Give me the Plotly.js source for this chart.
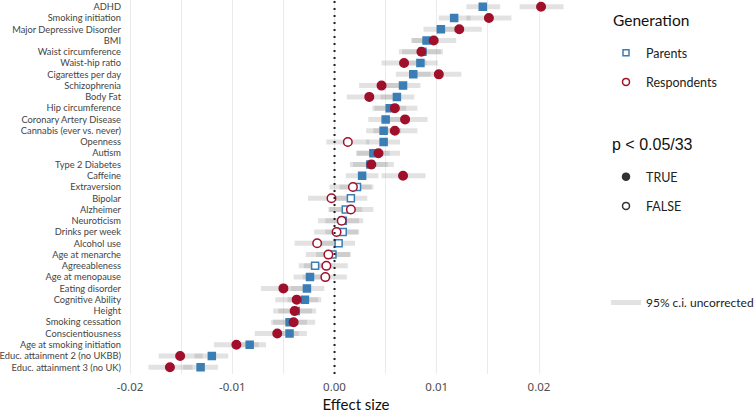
<!DOCTYPE html>
<html>
<head>
<meta charset="utf-8">
<script src="https://cdn.plot.ly/plotly-3.0.1.min.js"></script>
<style>html,body{margin:0;padding:0;background:#fff;}#chart{width:756px;height:413px;}</style>
</head>
<body>
<div id="chart"></div>
<script>
// ---- data ----
const traits = ["ADHD","Smoking initiation","Major Depressive Disorder","BMI","Waist circumference","Waist-hip ratio","Cigarettes per day","Schizophrenia","Body Fat","Hip circumference","Coronary Artery Disease","Cannabis (ever vs. never)","Openness","Autism","Type 2 Diabetes","Caffeine","Extraversion","Bipolar","Alzheimer","Neuroticism","Drinks per week","Alcohol use","Age at menarche","Agreeableness","Age at menopause","Eating disorder","Cognitive Ability","Height","Smoking cessation","Conscientiousness","Age at smoking initiation","Educ. attainment 2 (no UKBB)","Educ. attainment 3 (no UK)"];

const parentEst = [0.0145,0.0117,0.0104,0.0090,0.0086,0.0084,0.0077,0.0067,0.0061,0.0054,0.0050,0.0048,0.0048,0.0038,0.0035,0.0027,0.0022,0.0016,0.0011,0.0008,0.0008,0.0004,-0.0002,-0.0019,-0.0024,-0.0027,-0.0029,-0.0038,-0.0044,-0.0044,-0.0083,-0.0120,-0.0131];
const parentLo  = [0.0129,0.0102,0.0087,0.0076,0.0066,0.0066,0.0060,0.0050,0.0045,0.0037,0.0033,0.0031,0.0031,0.0021,0.0018,0.0011,0.0005,-0.0001,-0.0006,-0.0009,-0.0009,-0.0013,-0.0018,-0.0035,-0.0040,-0.0043,-0.0046,-0.0055,-0.0060,-0.0060,-0.0100,-0.0137,-0.0148];
const parentHi  = [0.0162,0.0133,0.0121,0.0101,0.0106,0.0101,0.0094,0.0084,0.0078,0.0070,0.0067,0.0065,0.0064,0.0054,0.0052,0.0043,0.0038,0.0032,0.0027,0.0024,0.0024,0.0020,0.0015,-0.0002,-0.0007,-0.0010,-0.0013,-0.0022,-0.0027,-0.0027,-0.0067,-0.0104,-0.0114];
const parentSig = [true,true,true,true,true,true,true,true,true,true,true,true,true,true,true,true,false,false,false,false,false,false,false,false,true,true,true,true,true,true,true,true,true];

const respEst = [0.0202,0.0151,0.0122,0.0097,0.0085,0.0068,0.0102,0.0046,0.0034,0.0059,0.0069,0.0059,0.0013,0.0043,0.0036,0.0067,0.0018,-0.0003,0.0016,0.0007,0.0002,-0.0017,-0.0006,-0.0008,-0.0009,-0.0050,-0.0037,-0.0039,-0.0040,-0.0056,-0.0096,-0.0151,-0.0161];
const respLo  = [0.0181,0.0129,0.0102,0.0075,0.0063,0.0046,0.0080,0.0024,0.0012,0.0039,0.0047,0.0038,-0.0008,0.0022,0.0015,0.0046,-0.0005,-0.0026,-0.0005,-0.0016,-0.0020,-0.0039,-0.0028,-0.0030,-0.0031,-0.0072,-0.0058,-0.0060,-0.0062,-0.0078,-0.0118,-0.0172,-0.0182];
const respHi  = [0.0224,0.0173,0.0144,0.0119,0.0104,0.0090,0.0124,0.0068,0.0057,0.0081,0.0091,0.0081,0.0034,0.0064,0.0058,0.0089,0.0036,0.0019,0.0038,0.0028,0.0023,0.0005,0.0016,0.0013,0.0012,-0.0028,-0.0016,-0.0018,-0.0019,-0.0035,-0.0074,-0.0129,-0.0139];
const respSig = [true,true,true,true,true,true,true,true,true,true,true,true,false,true,true,true,false,false,false,false,false,false,false,false,false,true,true,true,true,true,true,true,true];

const xTickVals = [-0.02,-0.01,0,0.01,0.02];
const xTickText = ["-0.02","-0.01","0.00","0.01","0.02"];

// ---- styling ----
const BLUE = "#3B7EB6";
const RED = "#A0102B";
const CI_COLOR = "rgba(150,150,150,0.28)";
const COND = "Lato, sans-serif";

function ciSegments(lo, hi) {
  const xs = [], ys = [];
  for (let i = 0; i < traits.length; i++) {
    xs.push(lo[i], hi[i], null);
    ys.push(traits[i], traits[i], null);
  }
  return {xs, ys};
}
const pc = ciSegments(parentLo, parentHi);
const rc = ciSegments(respLo, respHi);

const traces = [
  {type:"scatter", mode:"lines", x: pc.xs, y: pc.ys, line:{color:CI_COLOR, width:5},
   name:"95% c.i. uncorrected", legend:"legend3", showlegend:true, hoverinfo:"skip"},
  {type:"scatter", mode:"lines", x: rc.xs, y: rc.ys, line:{color:CI_COLOR, width:5},
   showlegend:false, hoverinfo:"skip"},
  {type:"scatter", mode:"markers", x: parentEst, y: traits, showlegend:false,
   marker:{symbol:"square", size:7, color: parentSig.map(s => s ? BLUE : "white"),
           line:{color:BLUE, width:1.5}}},
  {type:"scatter", mode:"markers", x: respEst, y: traits, showlegend:false,
   marker:{symbol:"circle", size:8.5, color: respSig.map(s => s ? RED : "white"),
           line:{color:RED, width:1.5}}},
  // legend entries
  {type:"scatter", mode:"markers", x:[null], y:[null], name:"Parents", legend:"legend", legendgroup:"p",
   marker:{symbol:"square", size:6, color:"white", line:{color:BLUE, width:1.5}}},
  {type:"scatter", mode:"markers", x:[null], y:[null], name:"Respondents", legend:"legend", legendgroup:"r",
   marker:{symbol:"circle", size:7, color:"white", line:{color:RED, width:1.5}}},
  {type:"scatter", mode:"markers", x:[null], y:[null], name:"TRUE", legend:"legend2", legendgroup:"t",
   marker:{symbol:"circle", size:7, color:"#333", line:{color:"#333", width:1.5}}},
  {type:"scatter", mode:"markers", x:[null], y:[null], name:"FALSE", legend:"legend2", legendgroup:"f",
   marker:{symbol:"circle", size:7, color:"white", line:{color:"#333", width:1.5}}}
];

const legendCommon = {
  xref:"container", yref:"container", xanchor:"left", yanchor:"top",
  bgcolor:"rgba(0,0,0,0)", borderwidth:0,
  font:{family:COND, size:12.5, color:"#222"},
  tracegrouporder:"normal", tracegroupgap:10
};

const layout = {
  width:756, height:413,
  margin:{l:128, r:172, t:0, b:39},
  paper_bgcolor:"white", plot_bgcolor:"white",
  showlegend:true,
  xaxis:{
    range:[-0.0202, 0.0244], tickvals:xTickVals, ticktext:xTickText,
    showgrid:true, gridcolor:"#EBEBEB", gridwidth:1,
    minor:{dtick:0.005, tick0:0, showgrid:true, gridcolor:"#EBEBEB", gridwidth:1},
    zeroline:false, showline:false, ticks:"", ticklabelstandoff:4,
    tickfont:{family:"Noto Sans, sans-serif", size:11.5, color:"#4d4d4d"},
    title:{text:"Effect size", standoff:6, font:{family:COND, size:15, color:"#111"}}
  },
  yaxis:{
    type:"category", categoryorder:"array", categoryarray:traits,
    tickmode:"linear", tick0:0, dtick:1,
    range:[32.6, -0.6], autorange:false,
    showgrid:false, zeroline:false, showline:false, ticks:"", ticklabelstandoff:6,
    tickfont:{family:COND, size:9.3, color:"#444"}
  },
  shapes:[{type:"line", xref:"x", yref:"paper", x0:0, x1:0, y0:0, y1:1,
           line:{color:"#222", width:2, dash:"2px,5px"}}],
  annotations:[
    {text:"Generation", xref:"paper", yref:"paper", x:(611-128)/456, y:1-20/374, xanchor:"left", yanchor:"middle",
     showarrow:false, font:{family:COND, size:15.5, color:"#111"}},
    {text:"p &lt; 0.05/33", xref:"paper", yref:"paper", x:(610-128)/456, y:1-144/374, xanchor:"left", yanchor:"middle",
     showarrow:false, font:{family:"Liberation Sans, Arial, sans-serif", size:16, color:"#111"}}
  ],
  legend: Object.assign({}, legendCommon, {x:606/756, y:1-38/413}),
  legend2: Object.assign({}, legendCommon, {x:606/756, y:1-162/413}),
  legend3: Object.assign({}, legendCommon, {x:606/756, y:1-288/413, font:{family:COND, size:12, color:"#222"}})
};

Plotly.newPlot("chart", traces, layout, {displayModeBar:false, staticPlot:true});
</script>
</body>
</html>
